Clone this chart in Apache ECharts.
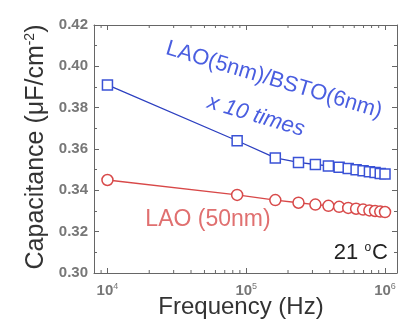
<!DOCTYPE html>
<html><head><meta charset="utf-8">
<script src="https://cdn.jsdelivr.net/npm/echarts@6/dist/echarts.min.js"></script>
<style>html,body{margin:0;padding:0;background:#fff}#c{width:399px;height:321px}</style>
</head><body><div id="c"></div>
<script>
const frequencies = [10000, 86000, 162000, 238000, 315000, 391000, 467000, 543000, 619000, 695000, 772000, 848000, 924000, 1000000];
const bstoValues = [0.391, 0.364, 0.3557, 0.3535, 0.3525, 0.3518, 0.3512, 0.3506, 0.3500, 0.3495, 0.3490, 0.3486, 0.3482, 0.3479];
const laoValues = [0.345, 0.3378, 0.3353, 0.334, 0.3331, 0.3325, 0.332, 0.3315, 0.3311, 0.3307, 0.3303, 0.33, 0.3297, 0.3295];
const minorTickValues = [9000, 20000, 30000, 40000, 50000, 60000, 70000, 80000, 90000, 200000, 300000, 400000, 500000, 600000, 700000, 800000, 900000];
const yTicks = [0.30, 0.32, 0.34, 0.36, 0.38, 0.40, 0.42];

const chart = echarts.init(document.getElementById('c'));
const axisCol = '#666';
const FONT = 'Liberation Sans, Arial, sans-serif';
function pair(a, b) { return a.map((v, i) => [v, b[i]]); }

chart.setOption({
  animation: false,
  grid: { left: 94, right: 2, top: 25, bottom: 48 },
  xAxis: [{
    type: 'log', min: 8000, max: 1220000, logBase: 10,
    axisLine: { lineStyle: { color: axisCol } },
    axisTick: { inside: true, length: 5, lineStyle: { color: axisCol } },
    splitLine: { show: false },
    axisLabel: {
      showMinLabel: false, showMaxLabel: false, margin: 9,
      formatter: v => '{b|10}{s|' + Math.round(Math.log10(v)) + '}',
      rich: {
        b: { fontSize: 15, color: '#777', fontFamily: FONT, fontWeight: 'bold' },
        s: { fontSize: 9, color: '#777', fontFamily: FONT, verticalAlign: 'top', padding: [0, 0, 8, 0] }
      }
    }
  }, {
    type: 'log', min: 8000, max: 1220000, position: 'top',
    axisLine: { lineStyle: { color: axisCol } },
    axisTick: { inside: true, length: 5, lineStyle: { color: axisCol } },
    axisLabel: { show: false }, splitLine: { show: false }
  }],
  yAxis: [{
    type: 'value', min: 0.30, max: 0.42, interval: 0.02,
    axisLine: { show: true, lineStyle: { color: axisCol } },
    axisTick: { show: true, inside: true, length: 5, lineStyle: { color: axisCol } },
    minorTick: { show: true, splitNumber: 2, length: 3, lineStyle: { color: axisCol } },
    splitLine: { show: false },
    axisLabel: { margin: 6, color: '#777', fontSize: 15, fontWeight: 'bold', fontFamily: FONT, formatter: v => v.toFixed(2) }
  }, {
    type: 'value', min: 0.30, max: 0.42, interval: 0.02, position: 'right',
    axisLine: { show: true, lineStyle: { color: axisCol } },
    axisTick: { show: true, inside: true, length: 5, lineStyle: { color: axisCol } },
    minorTick: { show: true, splitNumber: 2, length: 3, lineStyle: { color: axisCol } },
    splitLine: { show: false }, axisLabel: { show: false }
  }],
  series: [{
    type: 'line', data: pair(frequencies, bstoValues),
    symbol: 'rect', symbolSize: 10, showAllSymbol: true,
    lineStyle: { color: '#2c3fc0', width: 1.3 },
    itemStyle: { color: '#fff', borderColor: '#3a52d6', borderWidth: 1.5 },
    z: 3
  }, {
    type: 'line', data: pair(frequencies, laoValues),
    symbol: 'circle', symbolSize: 11, showAllSymbol: true,
    lineStyle: { color: '#d84848', width: 1.3 },
    itemStyle: { color: '#fff', borderColor: '#d84a4a', borderWidth: 1.5 },
    z: 3
  }, {
    type: 'custom', data: minorTickValues.map(v => [v, 0.30]), silent: true, clip: false,
    renderItem: (params, api) => {
      const b = api.coord([api.value(0), 0.30]);
      const t = api.coord([api.value(0), 0.42]);
      const st = { stroke: axisCol, lineWidth: 1 };
      return { type: 'group', children: [
        { type: 'line', shape: { x1: b[0], y1: b[1], x2: b[0], y2: b[1] - 3 }, style: st },
        { type: 'line', shape: { x1: t[0], y1: t[1], x2: t[0], y2: t[1] + 3 }, style: st }
      ]};
    }
  }],
  graphic: [{
    type: 'text', x: 36, y: 147, rotation: Math.PI / 2,
    style: {
      text: 'Capacitance (μF/cm{s|-2})', font: '25px ' + FONT, fill: '#333',
      align: 'center', verticalAlign: 'middle',
      rich: { s: { fontSize: 14, fill: '#333', fontFamily: FONT, verticalAlign: 'top', padding: [0, 0, 12, 0] } }
    }
  }, {
    type: 'text', x: 241, y: 307,
    style: { text: 'Frequency (Hz)', font: '24px ' + FONT, fill: '#333', align: 'center', verticalAlign: 'middle' }
  }, {
    type: 'text', x: 274, y: 80, rotation: -0.29,
    style: { text: 'LAO(5nm)/BSTO(6nm)', font: '22px ' + FONT, fill: '#4a5ee0', align: 'center', verticalAlign: 'middle' }
  }, {
    type: 'text', x: 256, y: 116, rotation: -0.29,
    style: { text: 'x 10 times', font: 'italic 22px ' + FONT, fill: '#4a5ee0', align: 'center', verticalAlign: 'middle' }
  }, {
    type: 'text', x: 208, y: 220,
    style: { text: 'LAO (50nm)', font: '23px ' + FONT, fill: '#e07070', align: 'center', verticalAlign: 'middle' }
  }, {
    type: 'text', x: 388, y: 253,
    style: {
      text: '21 {s|o}C', font: '22px ' + FONT, fill: '#222', align: 'right', verticalAlign: 'middle',
      rich: { s: { fontSize: 12, fill: '#222', fontFamily: FONT, verticalAlign: 'top', padding: [0, 1, 10, 0] } }
    }
  }]
});
</script></body></html>
